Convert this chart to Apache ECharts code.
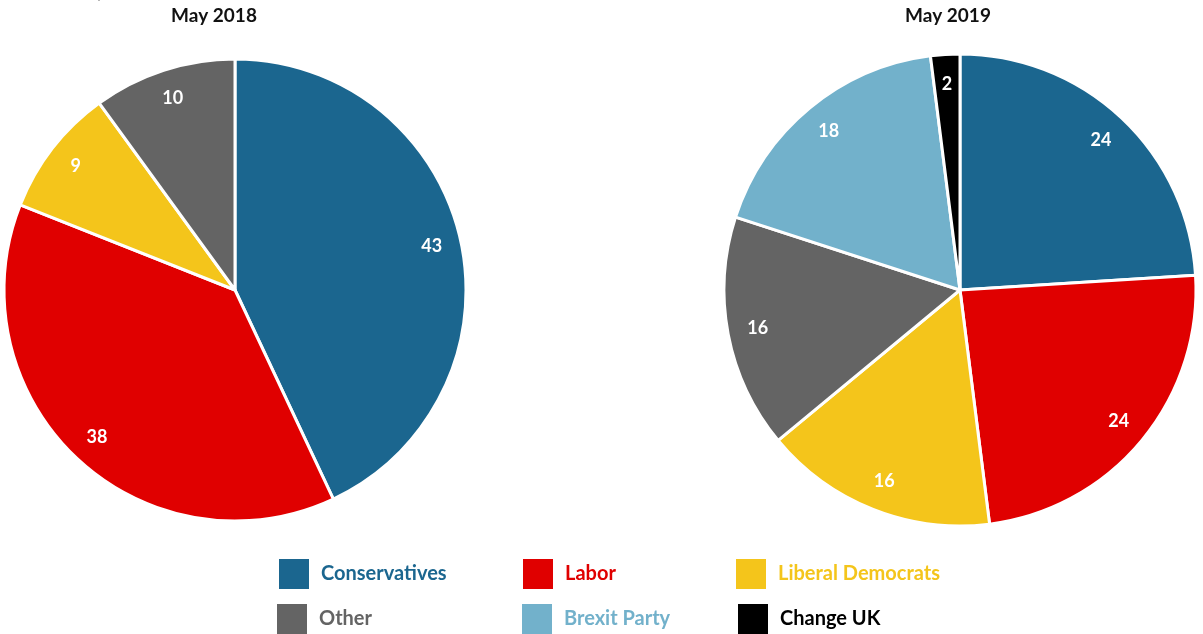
<!DOCTYPE html>
<html><head><meta charset="utf-8">
<script src="https://cdn.jsdelivr.net/npm/echarts@6/dist/echarts.min.js"></script>
<style>html,body{margin:0;padding:0;background:#fff}#c{width:1203px;height:634px}</style>
</head><body><div id="c"></div>
<script>
const parties = ['Conservatives','Labor','Liberal Democrats','Other','Brexit Party','Change UK'];
const colors = ['#1b668f','#e00000','#f4c51b','#646464','#72b1cb','#000000'];
const cats2018 = ['Conservatives','Labor','Liberal Democrats','Other'];
const vals2018 = [43,38,9,10];
const cats2019 = ['Conservatives','Labor','Liberal Democrats','Other','Brexit Party','Change UK'];
const vals2019 = [24,24,16,16,18,2];
const titles = ['May 2018','May 2019'];

const colorOf = n => colors[parties.indexOf(n)];
const mk = (cats, vals) => cats.map((c,i)=>({name:c, value:vals[i], itemStyle:{color:colorOf(c)}}));
const FONT = 'Lato';

function pies(cats, vals, center, r){
  return [
    {type:'pie', center:center, radius:[0,r], startAngle:90, clockwise:true,
     data:mk(cats,vals), label:{show:false}, labelLine:{show:false},
     itemStyle:{borderColor:'#fff', borderWidth:3}, emphasis:{disabled:true}},
    {type:'pie', center:center, radius:[r*0.72,r], startAngle:90, clockwise:true, silent:true,
     data:mk(cats,vals).map(d=>({...d, itemStyle:{color:'rgba(0,0,0,0)'}})),
     label:{show:true, position:'inside', formatter:'{c}', color:'#fff', fontFamily:FONT, fontWeight:'bold', fontSize:18},
     labelLine:{show:false}, emphasis:{disabled:true}, tooltip:{show:false}}
  ];
}

const legendPos = [[279,559],[523,559],[736,559],[277,604],[522,604],[738,604]];
const legends = parties.map((p,i)=>({
  left:legendPos[i][0], top:legendPos[i][1], orient:'horizontal', padding:0,
  itemWidth:30, itemHeight:30, itemGap:10, icon:'rect',
  itemStyle:{borderWidth:0},
  data:[{name:p, textStyle:{color:colors[i]}}],
  textStyle:{fontFamily:FONT, fontWeight:'bold', fontSize:20, padding:[0,0,0,7]}
}));

const chart = echarts.init(document.getElementById('c'));
chart.setOption({
  animation:false,
  title:[
    {text:'Per cent of respondents', left:2, top:-14, padding:0, textStyle:{fontFamily:FONT, fontSize:15, color:'#999', fontWeight:'normal'}},
    {text:titles[0], left:214, top:6, padding:0, textAlign:'center', textStyle:{fontFamily:FONT, fontWeight:'bold', fontSize:19, color:'#111'}},
    {text:titles[1], left:948, top:6, padding:0, textAlign:'center', textStyle:{fontFamily:FONT, fontWeight:'bold', fontSize:19, color:'#111'}}
  ],
  legend:legends,
  series:[...pies(cats2018, vals2018, [235,290], 231), ...pies(cats2019, vals2019, [960,290], 236)]
});
</script></body></html>
